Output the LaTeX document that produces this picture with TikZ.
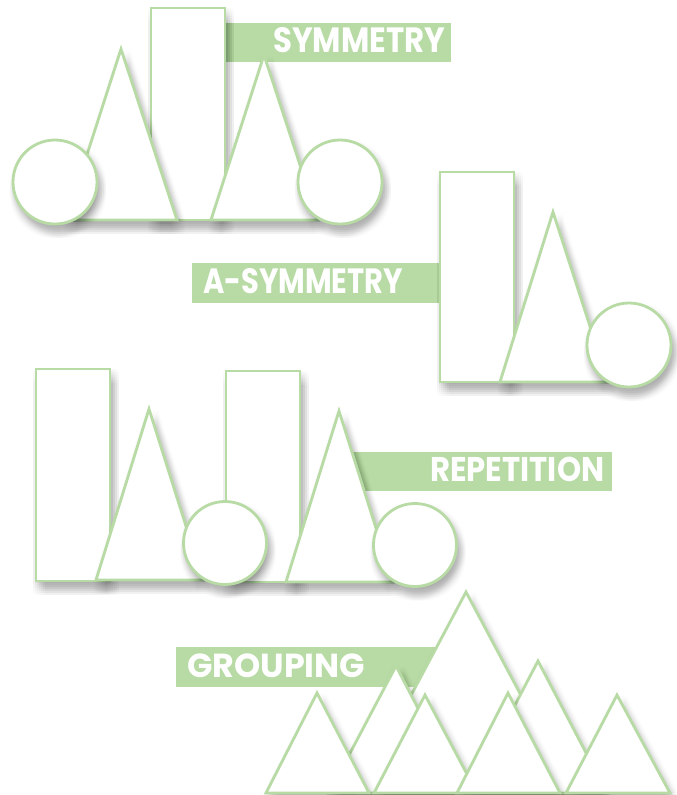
\documentclass[tikz,border=0pt]{standalone}
\usepackage{fontspec}
\newfontfamily\labelfont{Poppins}
\definecolor{vertclair}{RGB}{184,219,166}
\newcommand{\etiquette}[3]{\resizebox{#1pt}{#2pt}{\labelfont\bfseries #3}}
% ombre floue : copies decalees du contour, tres transparentes
\newcommand{\ombre}[1]{%
	\foreach \dx in {-3,-1,...,9}{\foreach \dy in {0,2,...,14}{%
		\fill[black, opacity=0.0065, shift={(\dx,\dy)}] #1;}}}
\newcommand{\forme}[1]{\ombre{#1}\draw[trait] #1;}
\tikzset{
	trait/.style={draw=vertclair, line width=2.8pt, fill=white},
	bande/.style={fill=vertclair},
	titre/.style={text=white, inner sep=0pt, anchor=west}
}
\begin{document}
\begin{tikzpicture}[x=1pt,y=-1pt]
			\useasboundingbox (0,0) rectangle (677,795);
			%Symetrie
			\fill[bande] (225,23) rectangle (451,62);
			\node[titre] (sym) at (273,40.5) {\etiquette{172}{25}{SYMMETRY}};
			\forme{(151,8) rectangle (225,220)}
			\forme{(121,49) -- (177,220) -- (66,220) -- cycle}
			\forme{(264,55) -- (318,220) -- (211,220) -- cycle}
			\forme{(55,182) circle[radius=42]}
			\forme{(340,182) circle[radius=42]}
			%Asymetrie
			\fill[bande] (192,263) rectangle (440,303);
			\node[titre] (asym) at (203,281) {\etiquette{200}{25}{A-SYMMETRY}};
			\forme{(440,172) rectangle (514,382)}
			\forme{(553,212) -- (608,382) -- (500,382) -- cycle}
			\forme{(629,345) circle[radius=42]}
			%Repetition
			\fill[bande] (353,452) rectangle (612,491);
			\node[titre] (rep) at (430,469.5) {\etiquette{174}{24.4}{REPETITION}};
			\forme{(36,369) rectangle (110,581)}
			\forme{(226,371) rectangle (300,582)}
			\forme{(149,409) -- (203,580) -- (96,580) -- cycle}
			\forme{(225,543) circle[radius=41.5]}
			\forme{(339,411) -- (393,582) -- (286,582) -- cycle}
			\forme{(415,545) circle[radius=41.5]}
			%Groupement
			\fill[bande] (176,647) rectangle (437,687);
			\node[titre] (grp) at (187,666) {\etiquette{178}{23.7}{GROUPING}};
			\forme{(466,592) -- (573,793) -- (359,793) -- cycle}
			\forme{(396,666) -- (462,793) -- (329,793) -- cycle}
			\forme{(538,661) -- (607,793) -- (469,793) -- cycle}
			\forme{(317,693) -- (369,793) -- (266,793) -- cycle}
			\forme{(425,695) -- (477,793) -- (374,793) -- cycle}
			\forme{(508,693) -- (560,793) -- (457,793) -- cycle}
			\forme{(617,695) -- (670,793) -- (566,793) -- cycle}
\end{tikzpicture}
\end{document}
